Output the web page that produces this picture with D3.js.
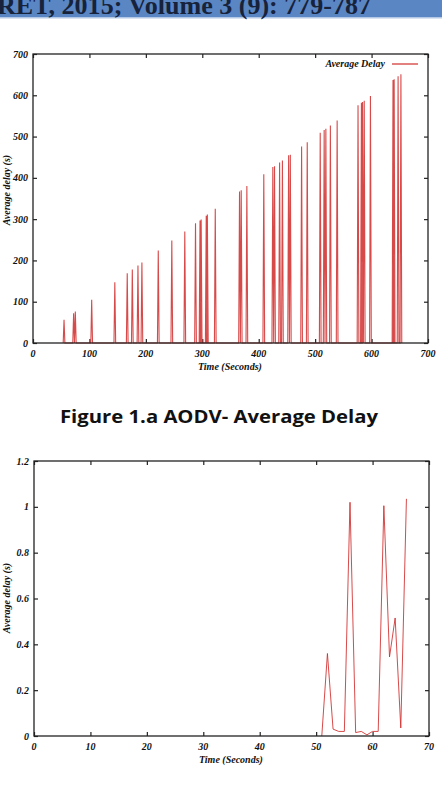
<!DOCTYPE html>
<html>
<head>
<meta charset="utf-8">
<script src="https://cdn.jsdelivr.net/npm/d3@7"></script>
<style>
  body { margin: 0; background: #fff; }
  svg { display: block; }
</style>
</head>
<body>
<div id="chart"></div>
<script>
// Figure 1.a data - AODV average delay (spikes)
const spikeTime  = [55, 72, 75, 104, 145, 167, 176, 186, 193, 222, 246, 269, 288, 296, 298, 307, 309, 323,
                    366, 369, 379, 409, 425, 428, 437, 442, 453, 456, 476, 486, 509, 516, 519, 527, 539,
                    576, 582, 584, 587, 598, 638, 640, 647, 652];
const spikeDelay = [56, 72, 76, 105, 147, 169, 178, 188, 195, 224, 248, 270, 290, 297, 299, 308, 311, 325,
                    367, 370, 380, 409, 426, 428, 437, 442, 455, 456, 476, 486, 509, 516, 519, 527, 539,
                    576, 582, 584, 587, 598, 637, 639, 646, 651];
const spikeHalf = 1.5; // seconds each side of a spike

// second figure - average delay per second
const time2  = [51, 52, 53, 54, 55, 56, 57, 58, 59, 60, 61, 62, 63, 64, 65, 66];
const delay2 = [0, 0.36, 0.03, 0.02, 0.02, 1.02, 0.015, 0.02, 0.005, 0.02, 0.02, 1.005, 0.345, 0.515, 0.035, 1.035];

const xTicks1 = [0, 100, 200, 300, 400, 500, 600, 700];
const yTicks1 = [0, 100, 200, 300, 400, 500, 600, 700];
const xTicks2 = [0, 10, 20, 30, 40, 50, 60, 70];
const yTicks2 = [0, 0.2, 0.4, 0.6, 0.8, 1, 1.2];

const W = 442, H = 790;
const red = "#d02a2a";
const tickFont = "'Liberation Serif', 'Times New Roman', serif";

const svg = d3.select("#chart")
  .append("svg")
    .attr("width", W)
    .attr("height", H);

// Header band
svg.append("rect")
  .attr("x", 0).attr("y", 0)
  .attr("width", W).attr("height", 17)
  .attr("fill", "#5a86c4");
svg.append("rect")
  .attr("x", 0).attr("y", 17)
  .attr("width", W).attr("height", 1.5)
  .attr("fill", "#b3c8e6");
svg.append("text")
  .attr("x", -3).attr("y", 13.5)
  .attr("textLength", 374)
  .attr("lengthAdjust", "spacingAndGlyphs")
  .style("font-family", "'Liberation Serif', 'DejaVu Serif', serif")
  .style("font-weight", "bold")
  .style("font-size", "25px")
  .style("fill", "#17223b")
  .text("RET, 2015; Volume 3 (9): 779-787");

// draws one gnuplot-like panel
function drawPanel(opt) {
  const g = svg.append("g");
  const x = d3.scaleLinear().domain(opt.xDomain).range([opt.left, opt.right]);
  const y = d3.scaleLinear().domain(opt.yDomain).range([opt.bottom, opt.top]);
  const tl = 4;

  // inward ticks on all four sides
  g.append("g")
    .attr("transform", `translate(0,${opt.bottom})`)
    .call(d3.axisTop(x).tickValues(opt.xTicks).tickSize(tl).tickFormat(""))
    .call(a => a.select(".domain").remove());
  g.append("g")
    .attr("transform", `translate(0,${opt.top})`)
    .call(d3.axisBottom(x).tickValues(opt.xTicks).tickSize(tl).tickFormat(""))
    .call(a => a.select(".domain").remove());
  g.append("g")
    .attr("transform", `translate(${opt.left},0)`)
    .call(d3.axisRight(y).tickValues(opt.yTicks).tickSize(tl).tickFormat(""))
    .call(a => a.select(".domain").remove());
  g.append("g")
    .attr("transform", `translate(${opt.right},0)`)
    .call(d3.axisLeft(y).tickValues(opt.yTicks).tickSize(tl).tickFormat(""))
    .call(a => a.select(".domain").remove());
  g.selectAll(".tick line").attr("stroke", "#222").attr("stroke-width", 1.2);

  // data line
  g.append("path")
    .datum(opt.points)
    .attr("fill", "none")
    .attr("stroke", red)
    .attr("stroke-width", opt.lineWidth)
    .attr("stroke-opacity", 0.85)
    .attr("stroke-linejoin", "miter")
    .attr("d", d3.line().x(d => x(d[0])).y(d => y(d[1])));

  // frame
  g.append("rect")
    .attr("x", opt.left).attr("y", opt.top)
    .attr("width", opt.right - opt.left)
    .attr("height", opt.bottom - opt.top)
    .attr("fill", "none")
    .attr("stroke", "#222")
    .attr("stroke-width", 1.3);

  // tick labels
  g.selectAll("text.xl")
    .data(opt.xTicks)
    .enter().append("text")
      .attr("x", d => x(d))
      .attr("y", opt.bottom + 13.5)
      .attr("text-anchor", "middle")
      .style("font-family", tickFont)
      .style("font-weight", "bold")
      .style("font-style", "italic")
      .style("font-size", "10px")
      .style("fill", "#111")
      .text(d => d);
  g.selectAll("text.yl")
    .data(opt.yTicks)
    .enter().append("text")
      .attr("x", opt.left - 5)
      .attr("y", d => y(d) + 3.5)
      .attr("text-anchor", "end")
      .style("font-family", tickFont)
      .style("font-weight", "bold")
      .style("font-style", "italic")
      .style("font-size", "10px")
      .style("fill", "#111")
      .text(d => d);

  // axis titles
  g.append("text")
    .attr("x", opt.xTitleX)
    .attr("y", opt.bottom + 27)
    .attr("text-anchor", "middle")
    .style("font-family", tickFont)
    .style("font-weight", "bold")
    .style("font-style", "italic")
    .style("font-size", "10px")
    .style("fill", "#111")
    .text("Time (Seconds)");
  g.append("text")
    .attr("transform", `translate(${opt.yTitleX},${opt.yTitleY}) rotate(-90)`)
    .attr("text-anchor", "middle")
    .style("font-family", tickFont)
    .style("font-weight", "bold")
    .style("font-style", "italic")
    .style("font-size", "10px")
    .style("fill", "#111")
    .text("Average delay (s)");

  return { g, x, y };
}

// panel 1 points: each spike rises from 0 and falls back to 0
const points1 = [];
spikeTime.forEach((t, i) => {
  points1.push([t - spikeHalf, 0], [t, spikeDelay[i]], [t + spikeHalf, 0]);
});

const p1 = drawPanel({
  left: 33, right: 428, top: 54, bottom: 343,
  xDomain: [0, 700], yDomain: [0, 700],
  xTicks: xTicks1, yTicks: yTicks1,
  points: points1, lineWidth: 1.1,
  xTitleX: 230, yTitleX: 10, yTitleY: 190
});

// legend
p1.g.append("text")
  .attr("x", 385).attr("y", 67)
  .attr("text-anchor", "end")
  .style("font-family", tickFont)
  .style("font-weight", "bold")
  .style("font-style", "italic")
  .style("font-size", "10px")
  .style("fill", "#111")
  .text("Average Delay");
p1.g.append("line")
  .attr("x1", 392).attr("x2", 418)
  .attr("y1", 64).attr("y2", 64)
  .attr("stroke", red)
  .attr("stroke-width", 1.2);

// caption
svg.append("text")
  .attr("x", 219).attr("y", 423)
  .attr("text-anchor", "middle")
  .attr("textLength", 318)
  .attr("lengthAdjust", "spacingAndGlyphs")
  .style("font-family", "'Open Sans', Lato, sans-serif")
  .style("font-weight", "bold")
  .style("font-size", "18px")
  .style("fill", "#111")
  .text("Figure 1.a AODV- Average Delay");

// panel 2
const points2 = time2.map((t, i) => [t, delay2[i]]);
drawPanel({
  left: 34, right: 429, top: 461, bottom: 736,
  xDomain: [0, 70], yDomain: [0, 1.2],
  xTicks: xTicks2, yTicks: yTicks2,
  points: points2, lineWidth: 1,
  xTitleX: 231, yTitleX: 10, yTitleY: 598
});
</script>
</body>
</html>
